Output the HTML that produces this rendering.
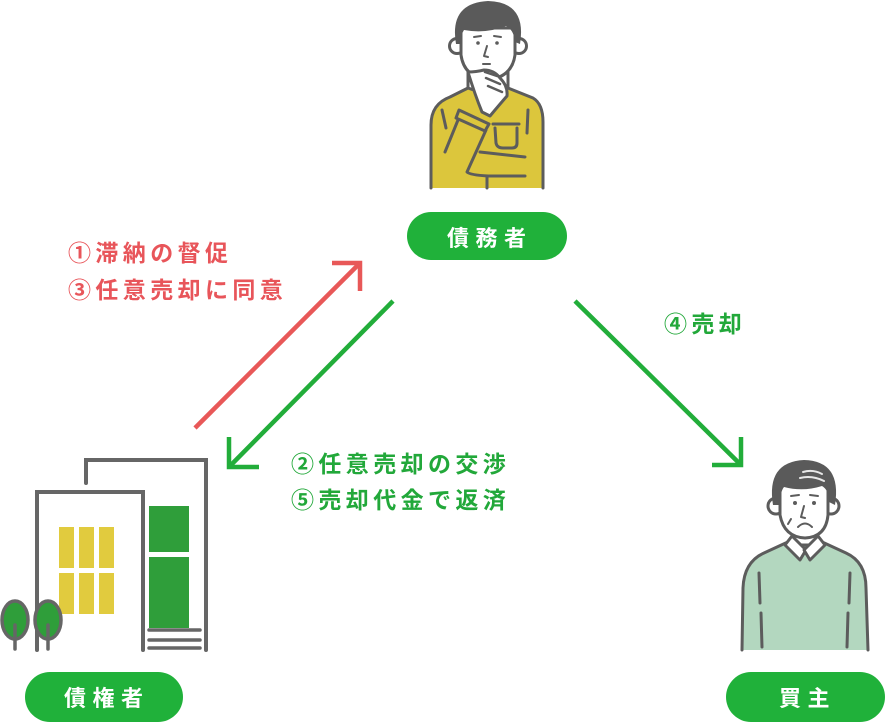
<!DOCTYPE html>
<html><head><meta charset="utf-8">
<style>
html,body{margin:0;padding:0;background:#fff;}
body{width:885px;height:722px;overflow:hidden;position:relative;}
svg{position:absolute;left:0;top:0;}
text{font-family:"Liberation Sans","Noto Sans CJK JP",sans-serif;font-weight:700;}
</style></head>
<body>
<svg width="885" height="722" viewBox="0 0 885 722" xmlns="http://www.w3.org/2000/svg">
  <!-- ===== Debtor (top person) ===== -->
  <g stroke="#5c5c5c" stroke-width="3" stroke-linejoin="round" stroke-linecap="round">
    <!-- body fill -->
    <path d="M431,188 L431,125 Q431,104 450,97 L468,88 L508,88 L533,98 Q543,104 543,122 L543,188 Z" fill="#dcc63c" stroke="none"/>
    <!-- body outline (open bottom) -->
    <path d="M431,188 L431,125 Q431,104 450,97 L468,88 M508,88 L533,98 Q543,104 543,122 L543,188" fill="none"/>
    <!-- neck -->
    <path d="M468,66 L468,88 Q488,96 508,88 L508,66 Z" fill="#fff"/>
    <!-- ears -->
    <circle cx="457" cy="46" r="7.5" fill="#fff"/>
    <circle cx="519" cy="46" r="7.5" fill="#fff"/>
    <!-- face -->
    <path d="M461,28 L461,55 Q464,77 488,80 Q512,77 515,55 L515,28 Z" fill="#fff"/>
    <!-- hair -->
    <path d="M456,44 Q449,3 488,1 Q527,2 520,44 L515,42 Q514,30 506,26 Q486,34 464,30 Q461,34 461,44 Z" fill="#5a5a5a" stroke="none"/>
    <!-- eyes / nose / mouth -->
    <circle cx="478" cy="43" r="1.8" fill="#5c5c5c" stroke="none"/>
    <circle cx="497" cy="43" r="1.8" fill="#5c5c5c" stroke="none"/>
    <path d="M474,37 L481,36 M494,36 L501,37" fill="none" stroke-width="2"/>
    <path d="M487,46 L484,56 L488,57" fill="none" stroke-width="2"/>
    <path d="M483,64 L490,64" fill="none" stroke-width="2"/>
    <!-- raised forearm + hand -->
    <path d="M468,72 Q475,95 482,112 L490,116 Q500,104 507,96 Q508,86 500,78 Q494,70 484,70 Q476,72 468,72 Z" fill="#fff"/>
    <path d="M486,78 L500,84 M488,86 L502,92 M485,72 L497,76" fill="none" stroke-width="2.5"/>
    <!-- cuff -->
    <path d="M459,110 L489,124 L485,131 L456,118 Z" fill="#dcc63c"/>
    <!-- arm lines -->
    <path d="M458,120 L445,152" fill="none"/>
    <path d="M486,130 L467,172 Q470,175 488,176 L525,176" fill="none"/>
    <path d="M480,152 L525,157" fill="none"/>
    <path d="M442,110 L446,128" fill="none"/>
    <path d="M528,110 L527,133" fill="none"/>
    <path d="M487,176 L487,188" fill="none"/>
    <!-- pocket -->
    <path d="M493,124 L519,124 M495,128 L496,143 Q497,148 503,148 L512,148 Q517,148 517,143 L517,128" fill="none"/>
  </g>

  <!-- ===== Buyer (right person) ===== -->
  <g stroke="#5c5c5c" stroke-width="3" stroke-linejoin="round" stroke-linecap="round">
    <path d="M742,650 L743,588 Q744,562 764,553 L790,541 L820,541 L846,553 Q866,562 866,588 L868,650 Z" fill="#b3d7bf" stroke="none"/>
    <path d="M742,650 L743,588 Q744,562 764,553 L790,541 M820,541 L846,553 Q866,562 866,588 L868,650" fill="none"/>
    <path d="M792,520 L792,545 L818,545 L818,520 Z" fill="#fff"/>
    <!-- collar -->
    <path d="M792,536 L785,545 L800,560 L806,550 Z" fill="#fff"/>
    <path d="M818,536 L825,545 L810,560 L804,550 Z" fill="#fff"/>
    <!-- ears -->
    <circle cx="776" cy="506" r="8" fill="#fff"/>
    <circle cx="831" cy="506" r="8" fill="#fff"/>
    <!-- face -->
    <path d="M780,482 L780,515 Q784,537 805,538 Q826,537 828,515 L828,482 Z" fill="#fff"/>
    <!-- hair -->
    <path d="M773,505 Q766,462 804,460 Q842,461 835,505 L829,502 Q829,490 822,486 Q803,492 784,487 Q780,492 780,505 Z" fill="#5a5a5a" stroke="none"/>
    <path d="M803,472 Q813,469 822,474 M800,478 Q812,475 824,481" fill="none" stroke="#e8e8e8" stroke-width="2"/>
    <!-- features -->
    <circle cx="795" cy="503" r="2" fill="#5c5c5c" stroke="none"/>
    <circle cx="814" cy="503" r="2" fill="#5c5c5c" stroke="none"/>
    <path d="M791,496 L799,495 M810,495 L818,496" fill="none" stroke-width="2"/>
    <path d="M804,506 L801,517 L805,518" fill="none" stroke-width="2"/>
    <path d="M798,527 Q805,520 812,527" fill="none" stroke-width="2"/>
    <path d="M791,519 L788,524" fill="none" stroke-width="2"/>
    <!-- sweater lines -->
    <path d="M759,573 L760,603 M761,613 L762,647 M850,573 L849,603 M848,613 L847,647" fill="none"/>
  </g>

  <!-- ===== Building (creditor) ===== -->
  <g stroke="#666" stroke-width="4" fill="none" stroke-linecap="round" stroke-linejoin="miter">
    <path d="M86,483 L86,460 L206,460 L206,650"/>
    <path d="M37,650 L37,492 L143,492 L143,650"/>
    <path d="M149,630 L200,630 M149,640 L200,640 M149,648 L200,648" stroke-width="3.5"/>
  </g>
  <g fill="#e1cb3e">
    <rect x="59" y="527" width="15" height="41"/>
    <rect x="79" y="527" width="15" height="41"/>
    <rect x="99" y="527" width="15" height="41"/>
    <rect x="59" y="573" width="15" height="41"/>
    <rect x="79" y="573" width="15" height="41"/>
    <rect x="99" y="573" width="15" height="41"/>
  </g>
  <g fill="#2f9e3a">
    <rect x="149" y="506" width="40" height="46"/>
    <rect x="149" y="557" width="40" height="71"/>
  </g>
  <!-- trees -->
  <g stroke="#666" stroke-width="3.5" stroke-linecap="round">
    <ellipse cx="15" cy="620" rx="13" ry="19" fill="#2f9e3a"/>
    <ellipse cx="48" cy="620" rx="13" ry="19" fill="#2f9e3a"/>
    <path d="M15,625 L15,649 M48,625 L48,649" fill="none"/>
  </g>

  <!-- ===== Arrows ===== -->
  <g fill="none" stroke-width="4.5" stroke-linejoin="miter" stroke-linecap="butt">
    <path d="M195,428 L359,264" stroke="#e85858"/>
    <path d="M332,263 L360,263 L360,291" stroke="#e85858"/>
    <path d="M393,301 L230,466" stroke="#22ad3a"/>
    <path d="M229,437 L229,467 L259,467" stroke="#22ad3a"/>
    <path d="M575,301 L740,464" stroke="#22ad3a"/>
    <path d="M741,437 L741,465 L712,465" stroke="#22ad3a"/>
  </g>

  <!-- ===== Labels ===== -->
  <g fill="#e8555a" font-size="23" letter-spacing="4.4">
    <text x="68" y="261">①滞納の督促</text>
    <text x="68" y="298">③任意売却に同意</text>
  </g>
  <g fill="#22a83a" font-size="23" letter-spacing="4.4">
    <text x="291" y="472">②任意売却の交渉</text>
    <text x="291" y="508">⑤売却代金で返済</text>
    <text x="664" y="332">④売却</text>
  </g>

  <!-- ===== Pills ===== -->
  <rect x="407" y="212" width="160" height="48" rx="24" fill="#20b13a"/>
  <rect x="25" y="672" width="158" height="50" rx="25" fill="#20b13a"/>
  <rect x="726" y="672" width="159" height="50" rx="25" fill="#20b13a"/>
  <g fill="#fff" font-size="22" letter-spacing="6.5">
    <text x="447" y="246">債務者</text>
    <text x="64" y="706">債権者</text>
    <text x="779" y="706">買主</text>
  </g>
</svg>
</body></html>
